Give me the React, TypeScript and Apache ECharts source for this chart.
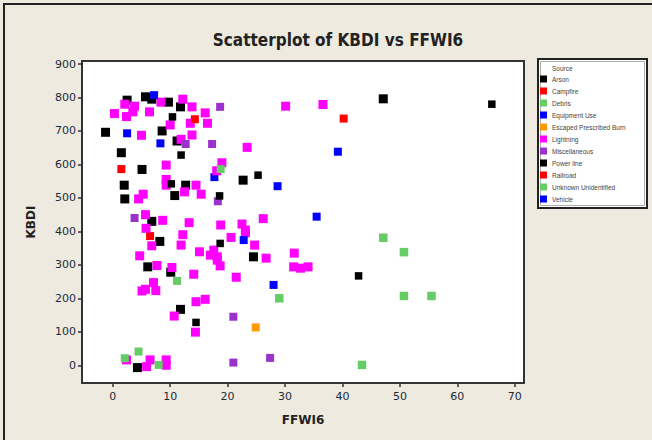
import React, { useEffect, useRef } from "react";
import * as echarts from "echarts";

const xTicks = [0, 10, 20, 30, 40, 50, 60, 70];
const yTicks = [0, 100, 200, 300, 400, 500, 600, 700, 800, 900];

const sourceNames = [
  "Arson",
  "Campfire",
  "Debris",
  "Equipment Use",
  "Escaped Prescribed Burn",
  "Lightning",
  "Miscellaneous",
  "Power line",
  "Railroad",
  "Unknown Unidentified",
  "Vehicle",
];

const arson = [
  [2.5, 792], [5.7, 802], [6.8, 795], [9.7, 786], [11.8, 772], [-1.25, 696], [8.6, 700],
  [11.2, 670], [1.5, 635], [5.1, 585], [2.0, 538], [2.1, 497], [12.7, 538], [10.8, 507],
  [6.8, 430], [8.2, 370], [6.1, 294], [10.1, 278], [11.8, 167], [4.3, -7], [22.7, 553],
  [24.5, 324], [47.1, 796],
];
const campfire = [[1.5, 586], [6.5, 386]];
const debris = [[47.1, 381], [50.7, 338], [50.7, 207], [55.5, 207], [43.4, 1], [29.0, 200]];
const equipmentUse = [[2.5, 693], [8.3, 663], [17.7, 562], [28.7, 535], [35.5, 444], [28.0, 240], [39.2, 638]];
const escapedBurn = [[24.9, 113]];
const lightning = [
  [2.1, 780], [3.8, 774], [3.5, 757], [0.3, 752], [2.4, 743], [8.4, 786], [12.2, 795],
  [13.8, 772], [6.4, 757], [16.1, 754], [13.5, 723], [16.5, 723], [10.0, 718], [5.0, 687],
  [13.8, 688], [11.9, 675], [9.3, 598], [19.0, 605], [18.1, 581], [9.3, 555], [9.3, 538],
  [14.5, 538], [12.5, 518], [15.4, 511], [5.3, 511], [4.5, 497], [5.7, 450], [8.7, 433],
  [13.3, 426], [5.8, 409], [18.8, 419], [12.2, 390], [6.8, 357], [11.9, 359], [15.1, 339],
  [17.6, 344], [17.0, 329], [18.2, 314], [18.7, 297], [18.2, 324], [4.7, 327], [7.7, 298],
  [10.3, 292], [14.1, 272], [7.1, 247], [5.7, 227], [5.1, 222], [7.5, 223], [14.5, 190],
  [16.1, 197], [10.7, 147], [14.4, 99], [2.4, 16], [6.5, 16], [5.9, -4], [9.3, 16], [9.3, 0],
  [30.1, 774], [36.6, 779], [23.4, 651], [22.5, 422], [26.2, 438], [23.1, 404], [20.6, 382],
  [23.1, 396], [24.7, 359], [26.7, 320], [31.6, 335], [31.5, 294], [32.7, 290], [34.0, 294],
  [21.5, 263],
];
const miscellaneous = [[18.7, 772], [12.7, 661], [17.3, 661], [18.3, 490], [3.8, 440], [21.0, 145], [21.0, 8], [27.4, 22]];
const powerLine = [[10.4, 742], [11.9, 628], [10.2, 542], [18.6, 506], [18.7, 364], [14.5, 128], [25.3, 568], [42.8, 267], [66.0, 780]];
const railroad = [[14.3, 735], [40.2, 737]];
const unknownUnidentified = [[4.5, 41], [2.1, 21], [8.0, 1], [11.2, 252], [18.8, 586]];
const vehicle = [[7.2, 807], [22.8, 374]];

const seriesData = [arson, campfire, debris, equipmentUse, escapedBurn, lightning, miscellaneous, powerLine, railroad, unknownUnidentified, vehicle];
const seriesColors = ["#000000", "#FF0000", "#66CC66", "#0000FF", "#FF9900", "#FF00FF", "#9933CC", "#000000", "#FF0000", "#66CC66", "#0000FF"];
const seriesSizes = [9, 8, 8.5, 8, 8, 9, 8, 7.5, 8, 8, 8];

export default function App() {
  const ref = useRef<HTMLDivElement>(null);
  useEffect(() => {
    if (!ref.current) return;
    const chart = echarts.init(ref.current, null, { renderer: "svg" });
    const axisFont = "DejaVu Sans, Verdana, sans-serif";
    chart.setOption({
      animation: false,
      backgroundColor: "#EEEADF",
      title: {
        text: "Scatterplot of KBDI vs FFWI6",
        left: 333,
        top: 26,
        textAlign: "center",
        textStyle: {
          fontFamily: "Liberation Sans Narrow, DejaVu Sans Condensed, Arial Narrow, sans-serif",
          fontWeight: "bold",
          fontSize: 17,
          color: "#222",
        },
      },
      grid: {
        left: 82,
        right: 128,
        top: 61,
        bottom: 57,
        show: true,
        backgroundColor: "#ffffff",
        borderColor: "#333",
        borderWidth: 2,
        containLabel: false,
        outerBoundsMode: "none",
      },
      legend: {
        orient: "vertical",
        left: 540,
        top: 75.5,
        padding: 0,
        itemWidth: 7,
        itemHeight: 7,
        itemGap: 5,
        icon: "rect",
        data: sourceNames,
        textStyle: {
          fontFamily: "Liberation Sans, Arial, sans-serif",
          fontSize: 6.5,
          lineHeight: 7,
          color: "#444",
        },
        z: 10,
      },
      xAxis: {
        type: "value",
        min: -5.35,
        max: 71.6,
        name: "FFWI6",
        nameLocation: "middle",
        nameGap: 31,
        nameTextStyle: { fontFamily: axisFont, fontWeight: "bold", fontSize: 12, color: "#222" },
        axisLine: { show: true, onZero: false, lineStyle: { color: "#333", width: 2 } },
        axisTick: { show: true, inside: false, length: 4, customValues: xTicks, lineStyle: { color: "#333", width: 1.5 } },
        axisLabel: { customValues: xTicks, fontFamily: axisFont, fontSize: 11, color: "#1c2a3a", margin: 8 },
        splitLine: { show: false },
      },
      yAxis: {
        type: "value",
        min: -53,
        max: 909,
        name: "KBDI",
        nameLocation: "middle",
        nameGap: 45,
        nameTextStyle: { fontFamily: axisFont, fontWeight: "bold", fontSize: 12, color: "#222" },
        axisLine: { show: true, onZero: false, lineStyle: { color: "#333", width: 2 } },
        axisTick: { show: true, inside: false, length: 4, customValues: yTicks, lineStyle: { color: "#333", width: 1.5 } },
        axisLabel: { customValues: yTicks, fontFamily: axisFont, fontSize: 11, color: "#1c2a3a", margin: 6 },
        splitLine: { show: false },
      },
      graphic: [
        { type: "line", shape: { x1: 3, y1: 4, x2: 652, y2: 4 }, style: { stroke: "#222", lineWidth: 2 }, z: 1 },
        { type: "line", shape: { x1: 4, y1: 3, x2: 4, y2: 440 }, style: { stroke: "#222", lineWidth: 2 }, z: 1 },
        { type: "rect", shape: { x: 538, y: 59, width: 109, height: 149 }, style: { fill: "#ffffff", stroke: "#222", lineWidth: 2 }, z: 1 },
        { type: "rect", shape: { x: 540.5, y: 61.5, width: 104, height: 144 }, style: { fill: "none", stroke: "#999", lineWidth: 0.8 }, z: 1 },
        {
          type: "text",
          x: 552,
          y: 68,
          style: { text: "Source", fontFamily: "Liberation Sans, Arial, sans-serif", fontSize: 6.5, fill: "#444", verticalAlign: "middle" },
          z: 2,
        },
      ],
      series: sourceNames.map((name, i) => ({
        name,
        type: "scatter",
        symbol: "rect",
        symbolSize: seriesSizes[i],
        data: seriesData[i],
        itemStyle: { color: seriesColors[i], opacity: 1 },
        emphasis: { disabled: true },
      })),
    });
    return () => chart.dispose();
  }, []);
  return <div ref={ref} style={{ position: "absolute", left: 0, top: 0, width: 652, height: 440 }} />;
}
